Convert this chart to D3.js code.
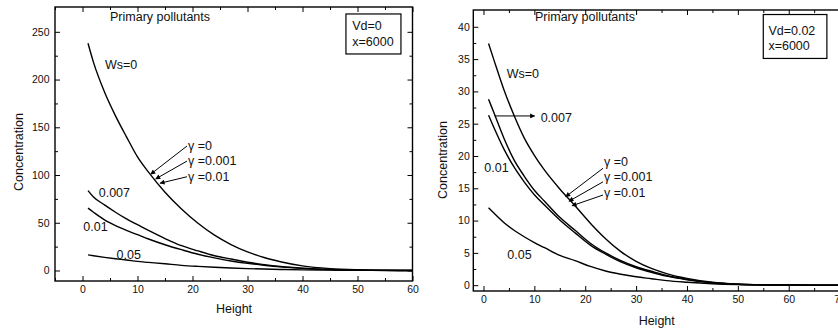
<!DOCTYPE html>
<html>
<head>
<meta charset="utf-8">
<script src="https://cdn.jsdelivr.net/npm/d3@7"></script>
<style>
  html, body { margin: 0; padding: 0; background: #fff; }
  svg { display: block; font-family: "Liberation Sans", Arial, sans-serif; }
</style>
</head>
<body>
<svg id="chart" width="838" height="331"></svg>
<script>
// ---------------- DATA ----------------
// Left panel (Vd=0, x=6000)
const heightsA = [1, 2, 4, 6, 8, 10, 12, 15, 18, 21, 24, 27, 30, 33, 36, 40, 45, 50, 55, 60];
const ws0A     = [238, 218, 187, 162, 140, 119, 103, 82, 64.5, 49.5, 37, 27.2, 19.5, 13.6, 9.2, 4.8, 2.0, 0.8, 0.3, 0.1];
const ws007A   = [83.7, 77, 68.7, 61, 54, 48, 42, 33.5, 26, 20.5, 15.5, 12, 8.7, 6.2, 4.2, 2.4, 1.0, 0.4, 0.1, 0];
const ws01A    = [65.3, 61, 53, 47, 42, 37.5, 33, 27, 21.8, 17, 13.2, 10, 7.5, 5.5, 3.8, 2.2, 1.0, 0.4, 0.1, 0];
const ws05A    = [16.4, 15.5, 13.8, 12.3, 11, 9.5, 8.5, 7, 5.4, 4.3, 3.4, 2.6, 2, 1.5, 1.1, 0.7, 0.35, 0.15, 0.05, 0];

// Right panel (Vd=0.02, x=6000)
const heightsB = [1, 2, 4, 6, 8, 10, 12, 15, 18, 21, 24, 27, 30, 33, 36, 40, 45, 50, 55, 60, 65, 70];
const ws0B     = [37.4, 35, 30.3, 26.3, 22.8, 20.1, 17.8, 14.9, 12.3, 9.6, 7.2, 5.2, 3.7, 2.6, 1.8, 1.05, 0.45, 0.17, 0.06, 0.02, 0, 0];
const ws007B   = [28.8, 26.8, 22.8, 19.4, 16.9, 14.7, 13, 10.5, 8.5, 6.5, 5, 3.8, 2.85, 2.15, 1.5, 0.9, 0.4, 0.15, 0.05, 0.02, 0, 0];
const ws01B    = [26.3, 24.5, 21.1, 18.3, 16, 14, 12.4, 10.1, 8.1, 6.2, 4.8, 3.6, 2.7, 2, 1.4, 0.85, 0.38, 0.14, 0.05, 0.02, 0, 0];
const ws05B    = [12.0, 11.2, 9.7, 8.5, 7.5, 6.6, 5.8, 4.6, 3.8, 2.9, 2.2, 1.7, 1.3, 1.0, 0.7, 0.45, 0.22, 0.1, 0.04, 0.01, 0, 0];

const titleText = "Primary pollutants";
const gammaLabels = ["\u03B3 =0", "\u03B3 =0.001", "\u03B3 =0.01"];
const xTitle = "Height";
const yTitle = "Concentration";

// tick values
const xMajorA = [0, 10, 20, 30, 40, 50, 60];
const xMinorA = [-5, 5, 15, 25, 35, 45, 55];
const yMajorA = [0, 50, 100, 150, 200, 250];
const yMinorA = [25, 75, 125, 175, 225];
const xMajorB = [0, 10, 20, 30, 40, 50, 60, 70];
const xMinorB = [5, 15, 25, 35, 45, 55, 65];
const yMajorB = [0, 5, 10, 15, 20, 25, 30, 35, 40];
const yMinorB = [2.5, 7.5, 12.5, 17.5, 22.5, 27.5, 32.5, 37.5];

// ---------------- LAYOUT ----------------
const panels = [
  {
    xDomain: [-5, 60], xRange: [55, 412.5], frameRight: 412.5, rightTicks: true,
    yDomain: [-11, 276], yRange: [281, 7],
    heights: heightsA,
    series: [ws0A, ws007A, ws01A, ws05A],
    xMajor: xMajorA, xMinor: xMinorA, yMajor: yMajorA, yMinor: yMinorA,
    yPad: 5.5,
    box: { x0: 47.9, x1: 57.9, y0: 268.7, y1: 226.8, tx: 49.05, lines: ["Vd=0", "x=6000"], ty: [251.4, 235.2] },
    title: { x: 5.0, y: 261.4 },
    labels: [
      { t: "Ws=0", x: 4.09, y: 211 },
      { t: "0.007", x: 2.95, y: 77 },
      { t: "0.01", x: 0.15, y: 41.4 },
      { t: "0.05", x: 6.2, y: 12 }
    ],
    gammaPos: { x: 19.2, y: [126.2, 110.5, 93.7] },
    arrows: [
      { x1: 19.0, y1: 130.4, x2: 12.4, y2: 100.9 },
      { x1: 19.0, y1: 114.6, x2: 13.3, y2: 95.9 },
      { x1: 19.0, y1: 98.2, x2: 14.1, y2: 91.4 }
    ],
    yTitlePos: { x: 23, y: 152 },
    xTitlePos: { x: 234, y: 313 }
  },
  {
    xDomain: [-2, 70], xRange: [473.3, 839.6], frameRight: 843, rightTicks: false,
    yDomain: [-0.9, 42.6], yRange: [291, 10],
    heights: heightsB,
    series: [ws0B, ws007B, ws01B, ws05B],
    xMajor: xMajorB, xMinor: xMinorB, yMajor: yMajorB, yMinor: yMinorB,
    yPad: 3.5,
    box: { x0: 55.0, x1: 67.5, y0: 41.9, y1: 35.1, tx: 56.0, lines: ["Vd=0.02", "x=6000"], ty: [38.8, 36.4] },
    title: { x: 10.12, y: 40.9 },
    labels: [
      { t: "Ws=0", x: 4.56, y: 32.1 },
      { t: "0.007", x: 11.24, y: 25.26 },
      { t: "0.01", x: 0.16, y: 17.5 },
      { t: "0.05", x: 4.68, y: 4.06 }
    ],
    gammaPos: { x: 23.7, y: [18.5, 16.1, 13.65] },
    arrows: [
      { x1: 23.5, y1: 18.1, x2: 16.16, y2: 13.7 },
      { x1: 23.5, y1: 16.0, x2: 16.8, y2: 13.0 },
      { x1: 23.5, y1: 13.96, x2: 17.4, y2: 12.3 },
      { x1: 2.2, y1: 26.2, x2: 10.06, y2: 26.2 }
    ],
    yTitlePos: { x: 446.5, y: 160 },
    xTitlePos: { x: 656.7, y: 325 }
  }
];

// ---------------- DRAW ----------------
const svg = d3.select("#chart");
const defs = svg.append("defs");
defs.append("marker")
  .attr("id", "arrowhead")
  .attr("viewBox", "0 0 10 10")
  .attr("refX", 9).attr("refY", 5)
  .attr("markerWidth", 7).attr("markerHeight", 5)
  .attr("markerUnits", "userSpaceOnUse")
  .attr("orient", "auto")
  .append("path").attr("d", "M0,0 L10,5 L0,10 Z").attr("fill", "#000");

panels.forEach(p => {
  const x = d3.scaleLinear().domain(p.xDomain).range(p.xRange);
  const y = d3.scaleLinear().domain(p.yDomain).range(p.yRange);
  const g = svg.append("g");
  const left = p.xRange[0], right = p.frameRight, top = p.yRange[1], bottom = p.yRange[0];

  // axes: major with labels
  const xAxis = d3.axisBottom(x).tickValues(p.xMajor).tickSizeInner(-5).tickSizeOuter(0).tickPadding(5).tickFormat(d3.format("d"));
  const gx = g.append("g").attr("transform", `translate(0,${bottom})`).call(xAxis);
  const yAxis = d3.axisLeft(y).tickValues(p.yMajor).tickSizeInner(-5).tickSizeOuter(0).tickPadding(p.yPad).tickFormat(d3.format("d"));
  const gy = g.append("g").attr("transform", `translate(${left},0)`).call(yAxis);
  // minor ticks
  const gxm = g.append("g").attr("transform", `translate(0,${bottom})`)
    .call(d3.axisBottom(x).tickValues(p.xMinor).tickSizeInner(-3).tickSizeOuter(0).tickFormat(""));
  const gym = g.append("g").attr("transform", `translate(${left},0)`)
    .call(d3.axisLeft(y).tickValues(p.yMinor).tickSizeInner(-3).tickSizeOuter(0).tickFormat(""));
  // mirrored ticks top & right
  const gt = g.append("g").attr("transform", `translate(0,${top})`)
    .call(d3.axisTop(x).tickValues(p.xMajor).tickSizeInner(-5).tickSizeOuter(0).tickFormat(""));
  const gtm = g.append("g").attr("transform", `translate(0,${top})`)
    .call(d3.axisTop(x).tickValues(p.xMinor).tickSizeInner(-3).tickSizeOuter(0).tickFormat(""));
  const axes = [gx, gy, gxm, gym, gt, gtm];
  if (p.rightTicks) {
    axes.push(g.append("g").attr("transform", `translate(${right},0)`)
      .call(d3.axisRight(y).tickValues(p.yMajor).tickSizeInner(-5).tickSizeOuter(0).tickFormat("")));
    axes.push(g.append("g").attr("transform", `translate(${right},0)`)
      .call(d3.axisRight(y).tickValues(p.yMinor).tickSizeInner(-3).tickSizeOuter(0).tickFormat("")));
  }
  axes.forEach(a => {
    a.select(".domain").remove();
    a.selectAll(".tick line").attr("stroke", "#000").attr("stroke-width", 1);
    a.selectAll(".tick text").attr("font-size", "10.5px").attr("fill", "#111");
  });

  // frame
  g.append("rect")
    .attr("x", left).attr("y", top)
    .attr("width", right - left).attr("height", bottom - top)
    .attr("fill", "none").attr("stroke", "#000").attr("stroke-width", 1.4);

  // curves
  const line = d3.line()
    .x((d, i) => x(p.heights[i]))
    .y(d => y(d))
    .curve(d3.curveMonotoneX);
  p.series.forEach(s => {
    g.append("path").datum(s)
      .attr("d", line)
      .attr("fill", "none")
      .attr("stroke", "#000")
      .attr("stroke-width", 1.4);
  });

  // info box (drawn before its text)
  g.append("rect")
    .attr("x", x(p.box.x0)).attr("y", y(p.box.y0))
    .attr("width", x(p.box.x1) - x(p.box.x0))
    .attr("height", y(p.box.y1) - y(p.box.y0))
    .attr("fill", "#fff").attr("stroke", "#000").attr("stroke-width", 1.2);

  // annotation text
  const ann = g.append("g").attr("fill", "#111").attr("font-size", "12.5px");
  ann.append("text").attr("x", x(p.title.x)).attr("y", y(p.title.y)).text(titleText);
  p.labels.forEach(l => ann.append("text").attr("x", x(l.x)).attr("y", y(l.y)).text(l.t));
  gammaLabels.forEach((t, i) => ann.append("text").attr("x", x(p.gammaPos.x)).attr("y", y(p.gammaPos.y[i])).text(t));
  p.box.lines.forEach((t, i) => ann.append("text")
    .attr("x", x(p.box.tx)).attr("y", y(p.box.ty[i])).text(t));

  // arrows
  p.arrows.forEach(a => {
    g.append("line")
      .attr("x1", x(a.x1)).attr("y1", y(a.y1))
      .attr("x2", x(a.x2)).attr("y2", y(a.y2))
      .attr("stroke", "#000").attr("stroke-width", 1)
      .attr("marker-end", "url(#arrowhead)");
  });

  // axis titles
  svg.append("text")
    .attr("transform", `translate(${p.yTitlePos.x},${p.yTitlePos.y}) rotate(-90)`)
    .attr("text-anchor", "middle").attr("font-size", "12.5px").attr("fill", "#111")
    .text(yTitle);
  svg.append("text")
    .attr("x", p.xTitlePos.x).attr("y", p.xTitlePos.y)
    .attr("text-anchor", "middle").attr("font-size", "12.5px").attr("fill", "#111")
    .text(xTitle);
});
</script>
</body>
</html>
